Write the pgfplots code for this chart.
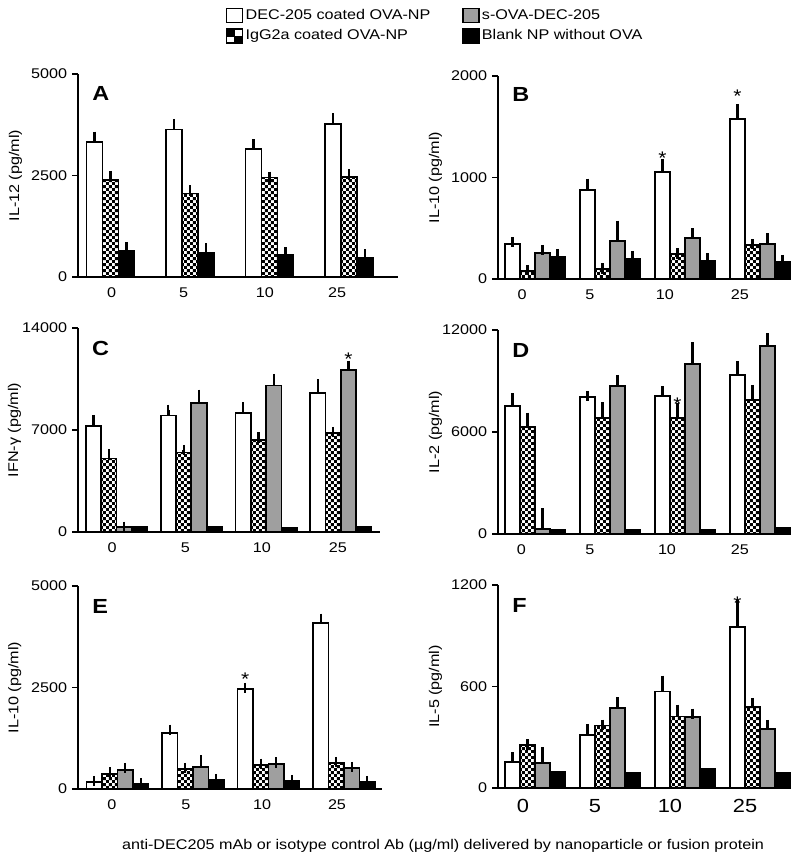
\documentclass[border=0pt]{standalone}
\usepackage{fontspec}
\setmainfont{Liberation Sans}[FakeStretch=1.15]
\usepackage{pgfplots}
\pgfplotsset{compat=1.18}
\usetikzlibrary{patterns}

% fine checkerboard for the IgG2a bars
\pgfdeclarepatternformonly{finechecker}{\pgfpointorigin}{\pgfqpoint{4.2pt}{4.2pt}}{\pgfqpoint{4.2pt}{4.2pt}}{%
  \pgfpathrectangle{\pgfpointorigin}{\pgfqpoint{2.1pt}{2.1pt}}%
  \pgfpathrectangle{\pgfqpoint{2.1pt}{2.1pt}}{\pgfqpoint{2.1pt}{2.1pt}}%
  \pgfusepath{fill}}

\pgfplotsset{
  every error bar/.append style={black, line width=1.7pt},
  panel/.style={
    scale only axis, anchor=south west,
    axis x line=bottom, axis y line=left,
    axis line style={-, line width=1.3pt},
    ybar, ymin=0, clip=false,
    xticklabels={0,5,10,25},
    xtick style={draw=none},
    ytick style={line width=1.3pt, black},
    tick align=outside, major tick length=1.5mm,
    scaled y ticks=false,
    /pgf/number format/1000 sep={},
    /pgf/number format/assume math mode=true,
    tick label style={font=\fontsize{10}{12}\selectfont},
    ylabel style={anchor=center, font=\fontsize{10}{12}\selectfont},
  },
  errs/.style={
    error bars/y dir=plus, error bars/y explicit,
    error bars/error bar style={black, line width=1.7pt},
    error bars/error mark options={black, line width=1.6pt, mark size=1.3mm},
  },
  wbar/.style={fill=white, draw=black, line width=1.3pt, forget plot, errs},
  cbar/.style={pattern=finechecker, pattern color=black, draw=black, line width=1.3pt, forget plot, errs},
  gbar/.style={fill=gray!75, draw=black, line width=1.3pt, forget plot, errs},
  kbar/.style={fill=black, draw=black, line width=1.3pt, forget plot, errs},
  kbarnoerr/.style={fill=black, draw=black, line width=1.3pt, forget plot},
  boxleg/.style={legend image code/.code={\draw[##1] (0mm,-1.75mm) rectangle (4mm,1.75mm);}},
  chkleg/.style={legend image code/.code={%
    \draw[fill=white, line width=1.2pt] (0mm,-1.75mm) rectangle (4mm,1.75mm);
    \fill (0mm,0mm) rectangle (2mm,1.75mm);
    \fill (2mm,-1.75mm) rectangle (4mm,0mm);}},
}
\tikzset{
  sigstar/.style={font=\fontsize{13}{13}\selectfont, inner sep=0pt, anchor=center, yshift=-2.8pt},
  letter/.style={font=\bfseries\fontsize{14.5}{14.5}\selectfont, inner sep=0pt, anchor=north west},
}

\begin{document}
\begin{tikzpicture}
\useasboundingbox (0,0) rectangle (200mm,-214.75mm);

% ---- A: IL-12
\begin{axis}[panel, at={(19.5mm,-69.25mm)}, width=80mm, height=50.75mm,
  xmin=-0.409, xmax=3.616, bar width=0.201,
  ymax=5000, ytick={0,2500,5000},
  xtick={0.015,0.918,1.94,2.85},
  ylabel={IL-12 (pg/ml)},
  ylabel style={at={(axis description cs:-0.195,0.5)}},
  legend columns=2,
  legend cell align=left,
  legend style={at={(0.447,1.345)}, anchor=north west, draw=none, fill=none,
    font=\fontsize{10}{12}\selectfont,
    nodes={inner sep=0.6mm}, row sep=0.8mm,
    /tikz/every even column/.append style={column sep=7.25mm}},
]
\addplot[wbar, bar shift=-0.201] coordinates {(0,3330) +- (0,125) (1,3635) +- (0,130) (2,3150) +- (0,115) (3,3760) +- (0,145)};
\addplot[cbar, bar shift=0] coordinates {(0,2385) +- (0,100) (1,2055) +- (0,80) (2,2450) +- (0,15) (3,2465) +- (0,60)};
\addplot[kbar, bar shift=0.201] coordinates {(0,640) +- (0,100) (1,590) +- (0,110) (2,535) +- (0,65) (3,475) +- (0,85)};
\node[letter] at (rel axis cs:0.044,0.94) {A};
\addlegendimage{draw=black, fill=white, line width=1.2pt, boxleg}
\addlegendentry{DEC-205 coated OVA-NP}
\addlegendimage{draw=black, fill=gray!75, line width=1.2pt, boxleg}
\addlegendentry{s-OVA-DEC-205}
\addlegendimage{chkleg}
\addlegendentry{IgG2a coated OVA-NP}
\addlegendimage{draw=black, fill=black, line width=1.2pt, boxleg}
\addlegendentry{Blank NP without OVA}
\end{axis}

% ---- B: IL-10
\begin{axis}[panel, at={(124.5mm,-69.75mm)}, width=73mm, height=50.75mm,
  xmin=-0.493, xmax=3.4, bar width=0.2,
  ymax=2000, ytick={0,1000,2000},
  xtick={-0.173,0.733,1.733,2.733},
  ylabel={IL-10 (pg/ml)},
  ylabel style={at={(axis description cs:-0.214,0.5)}},
]
\addplot[wbar, bar shift=-0.3] coordinates {(0,342) +- (0,20) (1,877) +- (0,60) (2,1057) +- (0,73) (3,1573) +- (0,102)};
\addplot[cbar, bar shift=-0.1] coordinates {(0,82) +- (0,7) (1,99) +- (0,6) (2,246) +- (0,7) (3,335) +- (0,7)};
\addplot[gbar, bar shift=0.1] coordinates {(0,253) +- (0,33) (1,374) +- (0,150) (2,407) +- (0,43) (3,345) +- (0,56)};
\addplot[kbar, bar shift=0.3] coordinates {(0,213) +- (0,33) (1,197) +- (0,30) (2,181) +- (0,23) (3,164) +- (0,23)};
\node[letter] at (rel axis cs:0.048,0.945) {B};
\node[sigstar] at (axis cs:1.7,1230) {*};
\node[sigstar] at (axis cs:2.7,1839) {*};
\end{axis}

% ---- C: IFN-gamma
\begin{axis}[panel, at={(19.5mm,-133mm)}, width=75.5mm, height=51mm,
  xmin=-0.515, xmax=3.523, bar width=0.205,
  ymax=14000, ytick={0,7000,14000},
  xtick={-0.06,0.92,1.945,2.96},
  ylabel={IFN-γ (pg/ml)},
  ylabel style={at={(axis description cs:-0.21,0.5)}},
]
\addplot[wbar, bar shift=-0.3075] coordinates {(0,7300) +- (0,390) (1,7990) +- (0,390) (2,8150) +- (0,410) (3,9520) +- (0,620)};
\addplot[cbar, bar shift=-0.1025] coordinates {(0,5050) +- (0,275) (1,5460) +- (0,160) (2,6310) +- (0,185) (3,6770) +- (0,90)};
\addplot[gbar, bar shift=0.1025] coordinates {(0,320) +- (0,40) (1,8880) +- (0,530) (2,10050) +- (0,440) (3,11130) +- (0,275)};
\addplot[kbarnoerr, bar shift=0.3075] coordinates {(0,320) (1,340) (2,300) (3,340)};
\node[letter] at (rel axis cs:0.046,0.935) {C};
\node[sigstar] at (axis cs:3.1025,12120) {*};
\end{axis}

% ---- D: IL-2
\begin{axis}[panel, at={(124.5mm,-133.5mm)}, width=73mm, height=51mm,
  xmin=-0.493, xmax=3.4, bar width=0.2,
  ymax=12000, ytick={0,6000,12000},
  xtick={-0.18,0.733,1.76,2.733},
  ylabel={IL-2 (pg/ml)},
  ylabel style={at={(axis description cs:-0.214,0.5)}},
]
\addplot[wbar, bar shift=-0.3] coordinates {(0,7530) +- (0,450) (1,8080) +- (0,40) (2,8120) +- (0,255) (3,9350) +- (0,530)};
\addplot[cbar, bar shift=-0.1] coordinates {(0,6310) +- (0,530) (1,6800) +- (0,650) (2,6800) +- (0,590) (3,7880) +- (0,590)};
\addplot[gbar, bar shift=0.1] coordinates {(0,275) +- (0,940) (1,8730) +- (0,330) (2,9980) +- (0,980) (3,11080) +- (0,430)};
\addplot[kbarnoerr, bar shift=0.3] coordinates {(0,235) (1,235) (2,235) (3,330)};
\node[letter] at (rel axis cs:0.048,0.935) {D};
\node[sigstar] at (axis cs:1.9,7840) {*};
\end{axis}

% ---- E: IL-10
\begin{axis}[panel, at={(19.5mm,-197.25mm)}, width=76mm, height=50.75mm,
  xmin=-0.523, xmax=3.503, bar width=0.205,
  ymax=5000, ytick={0,2500,5000},
  xtick={-0.073,0.907,1.914,2.907},
  ylabel={IL-10 (pg/ml)},
  ylabel style={at={(axis description cs:-0.208,0.5)}},
]
\addplot[wbar, bar shift=-0.3075] coordinates {(0,180) +- (0,17) (1,1377) +- (0,82) (2,2459) +- (0,25) (3,4082) +- (0,107)};
\addplot[cbar, bar shift=-0.1025] coordinates {(0,377) +- (0,33) (1,500) +- (0,16) (2,598) +- (0,25) (3,639) +- (0,25)};
\addplot[gbar, bar shift=0.1025] coordinates {(0,459) +- (0,57) (1,541) +- (0,164) (2,615) +- (0,41) (3,508) +- (0,33)};
\addplot[kbar, bar shift=0.3075] coordinates {(0,115) +- (0,16) (1,230) +- (0,16) (2,205) +- (0,16) (3,180) +- (0,17)};
\node[letter] at (rel axis cs:0.046,0.935) {E};
\node[sigstar] at (axis cs:1.6925,2795) {*};
\end{axis}

% ---- F: IL-5
\begin{axis}[panel, at={(124.5mm,-197mm)}, width=73mm, height=50.75mm,
  xmin=-0.493, xmax=3.4, bar width=0.2,
  ymax=1200, ytick={0,600,1200},
  xtick={-0.16,0.8,1.8,2.8},
  xticklabel style={font=\fontsize{13.5}{15}\selectfont},
  ylabel={IL-5 (pg/ml)},
  ylabel style={at={(axis description cs:-0.214,0.5)}},
]
\addplot[wbar, bar shift=-0.3] coordinates {(0,153) +- (0,28) (1,313) +- (0,35) (2,570) +- (0,63) (3,950) +- (0,128)};
\addplot[cbar, bar shift=-0.1] coordinates {(0,254) +- (0,4) (1,370) +- (0,4) (2,423) +- (0,39) (3,478) +- (0,24)};
\addplot[gbar, bar shift=0.1] coordinates {(0,148) +- (0,62) (1,472) +- (0,34) (2,421) +- (0,18) (3,348) +- (0,24)};
\addplot[kbarnoerr, bar shift=0.3] coordinates {(0,98) (1,92) (2,112) (3,89)};
\node[letter] at (rel axis cs:0.048,0.935) {F};
\node[sigstar] at (axis cs:2.7,1115) {*};
\end{axis}

\node[font=\fontsize{10}{12}\selectfont] at (110.75mm,-211.5mm)
  {anti-DEC205 mAb or isotype control Ab (µg/ml) delivered by nanoparticle or fusion protein};
\end{tikzpicture}
\end{document}
